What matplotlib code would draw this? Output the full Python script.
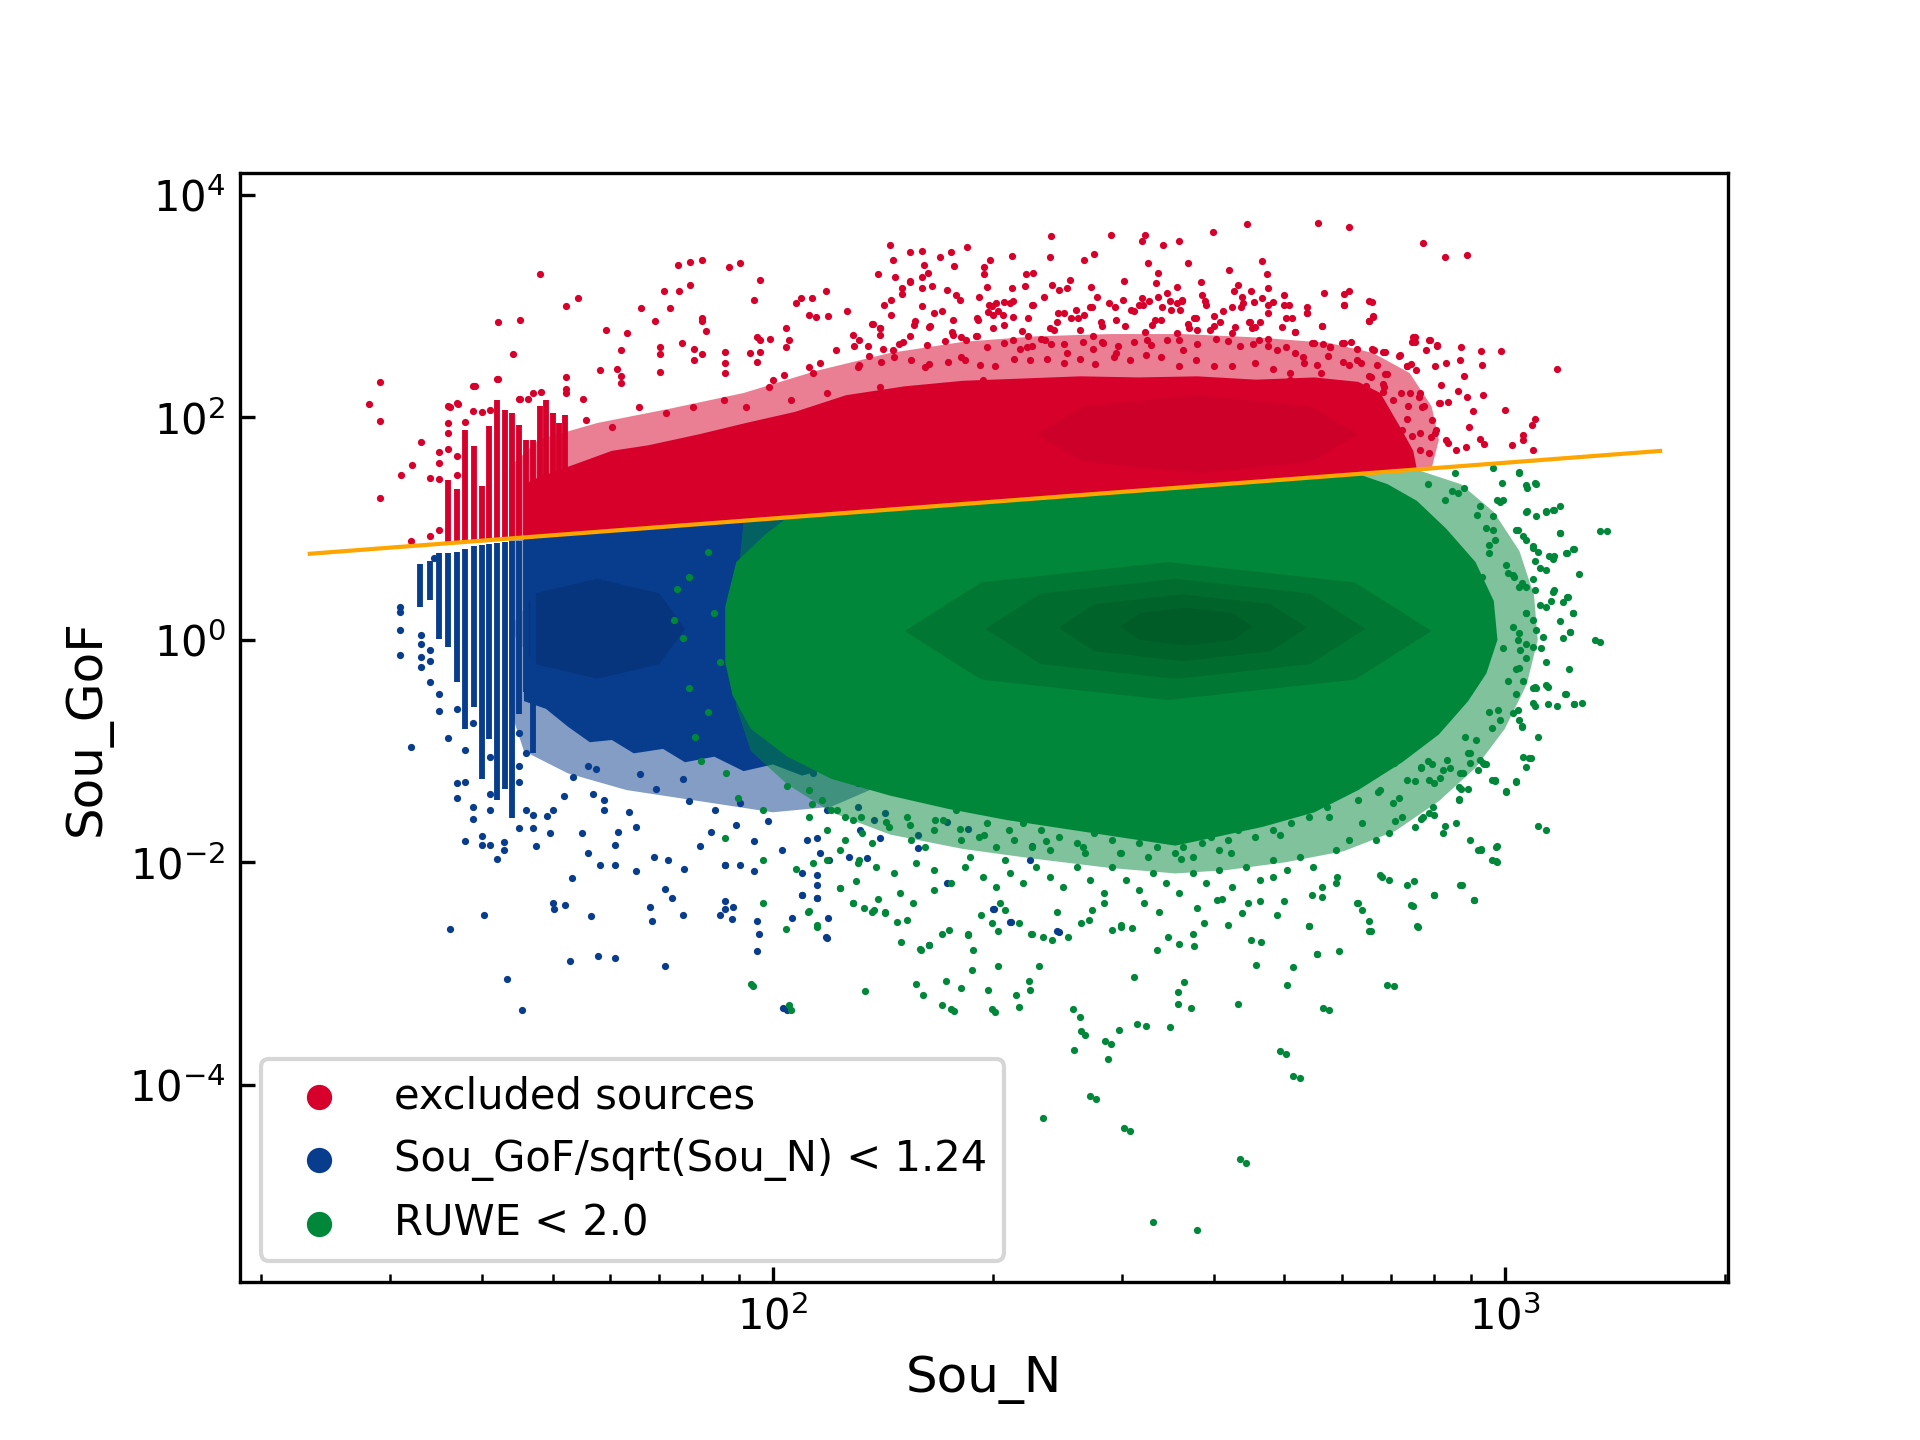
import numpy as np
import matplotlib.pyplot as plt
from matplotlib.ticker import NullLocator

RED = '#d6002b'
BLUE = '#083c8c'
GREEN = '#00873a'

# values are log10(Sou_N) and log10(Sou_GoF)

# threshold line, read at its two ends
line_n = [23.3, 1630]
line_gof = [5.95, 50.0]

y_ticks = [1e-4, 1e-2, 1e0, 1e2, 1e4]

# ---- excluded sources (red) ----
# sparse points, top and left of the cloud
red_lgN = [2.16, 2.265, 2.187, 2.204, 2.243, 1.682, 1.903, 1.887, 1.870, 1.940, 1.955, 1.734, 1.717, 1.624, 1.654,
           1.645, 1.463, 1.448, 1.463, 1.463, 1.519, 1.507, 1.492, 1.772, 1.801, 1.820, 1.839, 1.851, 1.872, 1.887,
           1.859, 1.982, 1.974, 2.072, 2.038, 2.053, 2.101, 2.031,
           2.745, 2.787, 2.648, 2.602, 2.555, 2.533, 2.508, 2.504, 2.462, 2.380, 2.378, 2.327, 2.439, 2.425, 2.512,
           2.567, 2.623, 2.668, 2.675, 2.888, 2.919, 2.948, 3.071, 3.041, 3.037, 3.025, 3.025, 3.010, 3.038, 2.995,
           2.967, 2.969, 2.940, 2.939, 2.944, 2.970, 3.000, 2.956, 2.948, 2.936, 2.907, 2.898, 2.878, 2.873, 2.814,
           2.820, 2.814, 2.780, 2.780, 2.787, 2.753, 2.750, 2.730, 2.730, 2.705, 2.676, 2.635, 2.585, 2.480, 2.406,
           2.346, 2.355, 2.327, 2.922, 2.911, 2.951, 2.971, 2.966, 2.947, 2.933, 2.923, 2.906, 2.899, 2.883, 2.870,
           2.887, 2.866, 2.872, 2.839, 2.833, 2.857, 2.836, 2.821,
           2.187, 2.204, 2.204, 2.217, 2.238, 2.25, 2.167, 2.176, 2.152, 2.161, 2.204, 2.22, 2.231, 2.137, 2.146,
           2.193, 2.214, 2.246, 2.279, 2.294, 2.288, 2.281, 2.30,
           2.049, 2.059, 2.075, 2.018, 2.022, 2.018, 1.978, 1.996, 1.982, 1.978, 1.969, 1.982, 1.934, 1.934, 1.934,
           1.903, 1.903, 1.908, 1.876, 1.892, 1.903, 1.892, 1.846, 1.846, 1.846, 1.792, 1.792, 1.792, 1.787, 1.764,
           1.717, 1.717, 1.717, 1.740, 1.683, 1.654, 1.665, 1.624, 1.593, 1.559, 1.570, 2.015, 2.000, 2.049, 2.064,
           2.328, 2.355, 2.384, 2.407, 2.436, 2.459, 2.493, 2.523, 2.542, 2.559, 2.578, 2.597, 2.615, 2.639, 2.652,
           2.676, 2.701, 2.713, 2.736, 2.761, 2.780, 2.798, 2.817, 2.835, 2.847, 2.835, 2.859, 2.884, 2.896, 2.372,
           2.347, 2.328, 2.402, 2.451, 2.469, 2.511, 2.555, 2.627, 2.664, 2.689, 2.725, 2.749, 2.773, 2.792, 2.810,
           2.773, 2.736, 2.706,
           1.995, 2.025, 2.074, 2.116, 2.146, 2.178, 2.220, 2.257, 2.287, 1.963, 1.933, 1.891, 1.854, 1.817, 1.780,
           1.745, 2.055, 2.116, 2.208, 2.257, 2.086,
           1.544, 1.544, 1.544, 1.544, 1.556, 1.556, 1.556, 1.556, 1.568, 1.568, 1.568, 1.580, 1.591, 1.591, 1.602,
           1.613, 1.623, 1.653, 1.672, 1.531, 1.531, 1.505]
red_lgG = [3.55, 3.53, 3.49, 3.50, 3.49, 3.29, 3.42, 3.40, 3.37, 3.35, 3.39, 3.07, 3.00, 2.86, 2.88,
           2.57, 2.32, 2.12, 1.97, 1.28, 1.78, 1.57, 1.48, 2.79, 2.76, 2.98, 2.87, 3.14, 3.14, 3.19,
           2.98, 3.24, 3.06, 3.14, 3.07, 3.07, 2.96, 3.03,
           3.75, 3.71, 3.74, 3.67, 3.59, 3.55, 3.64, 3.59, 3.64, 3.63, 3.44, 3.45, 3.47, 3.42, 3.39,
           3.39, 3.33, 3.41, 3.29, 3.57, 3.44, 3.46, 2.44, 1.99, 1.93, 1.84, 1.80, 1.75, 1.71, 2.60,
           2.60, 2.47, 2.63, 2.52, 2.37, 2.20, 2.07, 2.06, 2.18, 2.24, 2.64, 2.70, 2.72, 2.68, 3.05,
           2.90, 2.87, 3.01, 3.11, 3.14, 3.12, 2.82, 2.99, 2.94, 3.01, 3.16, 3.19, 3.22, 3.23, 3.24,
           3.29, 3.30, 3.16, 2.14, 2.13, 1.91, 1.76, 1.81, 1.73, 1.71, 1.77, 1.89, 1.82, 2.18, 2.22,
           2.09, 2.46, 2.48, 2.39, 2.30, 2.56, 2.59, 2.61,
           3.23, 3.26, 3.16, 3.18, 3.15, 3.10, 3.26, 3.16, 3.01, 3.06, 3.00, 2.94, 2.96, 2.84, 2.80,
           2.83, 2.81, 2.88, 2.89, 2.95, 3.35, 3.08, 3.00,
           2.92, 2.90, 2.91, 2.80, 2.70, 2.63, 2.72, 2.71, 2.70, 2.50, 2.58, 2.59, 2.59, 2.49, 2.40,
           2.89, 2.87, 2.78, 2.67, 2.62, 2.57, 2.52, 2.63, 2.57, 2.41, 2.61, 2.37, 2.31, 2.44, 2.43,
           2.36, 2.26, 2.22, 2.17, 2.23, 2.17, 2.17, 2.35, 2.28, 2.09, 2.12, 2.38, 2.34, 2.45, 2.49,
           3.05, 3.01, 2.79, 2.89, 2.99, 3.03, 2.96, 3.21, 3.05, 3.05, 2.89, 2.79, 2.96, 2.99, 2.86,
           3.01, 2.89, 2.77, 2.67, 2.63, 2.67, 2.52, 2.36, 2.27, 2.16, 2.04, 1.89, 1.86, 1.68, 2.70,
           2.63, 2.70, 2.58, 2.67, 2.58, 2.70, 2.70, 2.76, 2.70, 2.61, 2.54, 2.40, 2.27, 2.16, 2.00,
           1.98, 2.16, 2.34,
           2.27, 2.16, 2.22, 2.16, 2.27, 2.16, 2.22, 2.27, 2.34, 2.09, 2.16, 2.09, 2.04, 2.09, 1.91,
           1.98, 2.40, 2.45, 2.45, 2.54, 2.61,
           1.69, 1.59, 1.45, 0.99, 2.10, 1.95, 1.86, 1.72, 2.13, 1.65, 1.48, 1.96, 2.28, 2.06, 2.05,
           2.07, 2.35, 2.17, 2.22, 1.46, 0.93, 0.89]

# denser speckle above the solid red area
red_fringe_lgN = [2.164, 2.228, 2.297, 2.207, 2.247, 2.144, 2.212, 2.288, 2.526, 2.187, 2.293, 2.345, 2.382, 2.391,
                  2.402, 2.435, 2.630, 2.653, 2.699, 2.819, 2.177, 2.256, 2.296, 2.305, 2.316, 2.324, 2.354, 2.371,
                  2.443, 2.479, 2.504, 2.514, 2.526, 2.538, 2.552, 2.559, 2.587, 2.591, 2.641, 2.658, 2.668, 2.684,
                  2.161, 2.280, 2.301, 2.307, 2.315, 2.328, 2.349, 2.390, 2.398, 2.414, 2.417, 2.425, 2.433, 2.449,
                  2.468, 2.469, 2.490, 2.500, 2.506, 2.522, 2.532, 2.544, 2.552, 2.556, 2.567, 2.575, 2.592, 2.603,
                  2.611, 2.627, 2.643, 2.651, 2.659, 2.665, 2.676, 2.699, 2.709, 2.730, 2.780, 2.814, 2.820, 2.750,
                  2.714, 2.695, 2.136, 2.146, 2.147, 2.194, 2.215, 2.245, 2.257, 2.279, 2.301, 2.316, 2.340, 2.349,
                  2.379, 2.388, 2.419, 2.438, 2.450, 2.481, 2.508, 2.518, 2.530, 2.552, 2.569, 2.580, 2.603, 2.631,
                  2.655, 2.676, 2.874, 2.878, 2.892, 2.897, 2.907,
                  2.109, 2.118, 2.111, 2.130, 2.151, 2.164, 2.172, 2.178, 2.188, 2.210, 2.235, 2.246, 2.264, 2.277,
                  2.293, 2.316, 2.338, 2.354, 2.366, 2.380, 2.398, 2.424, 2.437, 2.450, 2.472, 2.494, 2.517, 2.538,
                  2.560, 2.579, 2.605, 2.622, 2.638, 2.656, 2.677, 2.701, 2.714, 2.739, 2.751, 2.761, 2.777, 2.790,
                  2.798, 2.819, 2.834, 2.855, 2.866, 2.879, 2.905, 2.920, 2.826, 2.815, 2.837, 2.787, 2.779, 2.803,
                  2.758, 2.744, 2.726, 2.706, 2.684, 2.659, 2.628, 2.603, 2.578, 2.555, 2.531, 2.510, 2.488, 2.466,
                  2.440, 2.419, 2.398, 2.374, 2.351, 2.330, 2.304, 2.283, 2.262, 2.239, 2.213, 2.189, 2.165, 2.148,
                  2.132, 2.118, 2.913, 2.884, 2.858, 2.834, 2.811, 2.868, 2.889, 2.910, 2.837, 2.866, 2.900, 2.873,
                  2.905, 2.920, 2.847, 2.884]
red_fringe_lgG = [3.42, 3.44, 3.42, 3.37, 3.36, 3.29, 3.30, 3.29, 3.30, 3.22, 3.17, 3.18, 3.19, 3.15,
                  3.16, 3.17, 3.14, 3.14, 3.10, 3.04, 3.11, 3.06, 3.01, 3.03, 3.04, 3.03, 3.01, 3.08,
                  3.08, 3.06, 3.07, 3.05, 3.08, 3.12, 3.17, 3.06, 3.10, 3.05, 3.08, 3.04, 3.07, 3.04,
                  2.92, 2.88, 2.92, 2.96, 2.92, 2.90, 2.89, 2.94, 2.94, 2.97, 2.89, 2.92, 2.99, 2.86,
                  2.99, 2.88, 2.97, 3.01, 3.01, 2.88, 2.99, 2.97, 3.03, 2.97, 2.84, 2.89, 3.01, 2.91,
                  2.86, 2.99, 3.03, 2.86, 2.81, 2.86, 2.94, 3.01, 2.89, 2.94, 3.01, 2.87, 2.91, 2.82,
                  2.77, 2.81, 2.84, 2.80, 2.74, 2.87, 2.82, 2.77, 2.72, 2.73, 2.80, 2.83, 2.78, 2.73,
                  2.80, 2.86, 2.79, 2.73, 2.82, 2.82, 2.77, 2.83, 2.88, 2.76, 2.80, 2.79, 2.82, 2.81,
                  2.80, 2.71, 2.72, 2.68, 2.61, 2.70, 2.65,
                  2.74, 2.70, 2.64, 2.64, 2.62, 2.61, 2.66, 2.68, 2.73, 2.65, 2.69, 2.74, 2.70, 2.73,
                  2.63, 2.67, 2.62, 2.64, 2.71, 2.66, 2.66, 2.68, 2.62, 2.68, 2.64, 2.68, 2.65, 2.70,
                  2.61, 2.66, 2.71, 2.69, 2.64, 2.66, 2.64, 2.63, 2.58, 2.67, 2.66, 2.63, 2.67, 2.68,
                  2.62, 2.62, 2.59, 2.55, 2.46, 2.43, 2.46, 2.49, 2.47, 2.37, 2.39, 2.47, 2.50, 2.49,
                  2.55, 2.47, 2.49, 2.40, 2.44, 2.49, 2.46, 2.46, 2.52, 2.46, 2.54, 2.56, 2.52, 2.54,
                  2.48, 2.53, 2.49, 2.53, 2.52, 2.53, 2.46, 2.47, 2.52, 2.50, 2.48, 2.52, 2.54, 2.50,
                  2.55, 2.47, 2.29, 2.22, 2.22, 2.23, 2.28, 2.10, 2.10, 2.13, 2.04, 1.99, 1.98, 1.83,
                  1.86, 1.80, 1.86, 1.71]

# low-N columns (integer Sou_N) above the line: N, lowest and highest log10 GoF
red_col_n = [36, 37, 38, 39, 40, 41, 42, 43, 44, 45, 46, 47, 48, 49, 50, 51, 52]
red_col_lo = [0.88, 0.89, 0.89, 0.89, 0.90, 0.90, 0.91, 0.91, 0.92, 0.92, 0.93, 0.93, 0.94, 0.94, 0.94, 0.95, 0.95]
red_col_hi = [1.44, 1.36, 1.89, 1.74, 1.38, 1.92, 2.16, 2.07, 2.04, 1.93, 1.80, 1.80, 2.10, 2.16, 2.04, 1.95, 2.02]

# outline of the solid red area, and of the speckled band round it
red_core_lgN = [1.66, 2.88, 2.875, 2.86, 2.845, 2.83, 2.80, 2.74, 2.66, 2.58, 2.50, 2.42, 2.34, 2.26, 2.18,
                2.10, 2.03, 1.963, 1.90, 1.83, 1.78, 1.73, 1.683, 1.66]
red_core_lgG = [0.92, 1.53, 1.70, 1.88, 2.05, 2.22, 2.32, 2.36, 2.34, 2.37, 2.36, 2.37, 2.35, 2.33, 2.28,
                2.20, 2.05, 1.95, 1.85, 1.75, 1.70, 1.58, 1.47, 1.40]
red_band_lgN = [1.64, 2.90, 2.91, 2.90, 2.87, 2.82, 2.76, 2.66, 2.56, 2.46, 2.36, 2.26, 2.16, 2.06, 1.96,
                1.86, 1.76, 1.68, 1.64]
red_band_lgG = [0.91, 1.54, 1.80, 2.10, 2.40, 2.58, 2.67, 2.72, 2.75, 2.75, 2.73, 2.68, 2.58, 2.42, 2.22,
                2.08, 1.95, 1.80, 1.55]
red_dark_lgN = [2.80, 2.736, 2.58, 2.424, 2.36, 2.424, 2.58, 2.736]
red_dark_lgG = [1.85, 2.097, 2.20, 2.097, 1.85, 1.603, 1.50, 1.603]

# ---- Sou_GoF/sqrt(Sou_N) < 1.24 (blue) ----
blue_lgN = [1.491, 1.491, 1.491, 1.491, 1.505, 1.519, 1.519, 1.519, 1.519, 1.531, 1.531, 1.531, 1.544, 1.544,
            1.556, 1.568, 1.568, 1.568, 1.580, 1.580, 1.580, 1.591, 1.591, 1.591, 1.602, 1.602, 1.613, 1.613,
            1.613, 1.613, 1.623, 1.633, 1.633, 1.653, 1.653, 1.653, 1.653, 1.663, 1.663, 1.672, 1.672,
            1.691, 1.700, 1.715, 1.727, 1.747, 1.759, 1.754, 1.769, 1.784, 1.803, 1.813, 1.837, 1.857, 1.879,
            1.901, 1.916, 1.935, 1.955, 1.974, 1.974, 1.994, 2.013, 1.764, 1.784, 1.813, 1.725, 1.700, 1.716,
            1.852, 1.862, 1.832, 1.935, 1.945, 1.747, 1.769, 1.818, 1.840, 1.877, 1.886, 1.921, 1.950, 1.955,
            1.789, 1.676, 1.695, 1.739,
            1.559, 1.606, 1.637, 1.657, 1.701, 1.723, 1.751, 1.785, 1.761, 1.852, 1.835, 1.877, 1.928, 1.981,
            2.020, 1.537,
            1.935, 1.978, 1.978, 1.935, 1.944, 2.014, 2.040, 2.061, 2.072, 2.026, 2.214, 2.388, 2.325, 2.301,
            2.043, 2.055, 2.116, 2.074, 2.046, 2.061, 2.116, 2.153, 2.064, 2.104, 2.128, 2.077, 2.040, 2.061,
            2.061, 2.040, 2.061, 2.199, 2.199, 2.238, 2.266, 2.354, 2.351, 2.391, 2.324, 2.302, 2.075, 2.074,
            2.238, 2.147, 2.119, 2.138]
blue_lgG = [0.30, 0.25, 0.09, -0.14, -0.96, 0.04, -0.04, -0.15, -0.24, -0.09, -0.19, -0.38, -0.49, -0.64,
            -0.88, -0.62, -1.29, -1.42, -0.99, -1.28, -1.81, -0.75, -1.50, -1.61, -1.76, -1.84, -1.05, -1.39,
            -1.53, -1.84, -1.97, -1.82, -1.89, -0.84, -1.13, -1.28, -1.69, -1.02, -1.53, -1.57, -1.69,
            -1.58, -1.53, -1.40, -1.23, -1.13, -1.16, -1.39, -1.53, -1.84, -1.55, -1.68, -1.95, -1.98, -2.06,
            -1.85, -1.73, -2.02, -2.02, -2.08, -1.81, -1.63, -1.89, -2.02, -2.02, -2.08, -2.14, -2.37, -2.38,
            -2.24, -2.32, -2.40, -2.42, -2.40, -1.92, -1.44, -1.21, -1.34, -1.25, -1.45, -1.53, -1.66, -1.47,
            -1.73, -1.85, -1.74, -1.74,
            -2.60, -2.47, -3.05, -3.33, -2.42, -2.89, -2.48, -2.86, -2.84, -2.93, -2.53, -2.47, -2.47, -2.64,
            -3.33, 0.74,
            -2.02, -2.53, -2.80, -2.35, -2.51, -3.31, -2.29, -2.32, -2.67, -2.50, -2.74, -2.62, -2.54, -2.42,
            -1.08, -1.20, -1.29, -1.53, -1.80, -1.78, -1.50, -1.56, -1.92, -1.95, -1.96, -1.98, -2.10, -2.11,
            -2.20, -2.29, -2.32, -1.75, -1.87, -1.64, -1.70, -1.85, -1.98, -2.63, -2.54, -2.42, -2.50, -2.68,
            -2.19, -1.78, -1.71, -1.62]

blue_col_n = [33, 34, 35, 36, 37, 38, 39, 40, 41, 42, 43, 44, 45, 46, 47]
blue_col_lo = [0.30, 0.36, 0.01, -0.06, -0.38, -0.80, -0.60, -1.25, -0.89, -1.44, -1.34, -1.60, -0.67, -0.47, -1.02]
blue_col_hi = [0.68, 0.71, 0.78, 0.78, 0.79, 0.82, 0.84, 0.85, 0.86, 0.87, 0.88, 0.89, 0.89, 0.90, 0.91]

blue_core_lgN = [1.66, 2.17, 2.17, 2.15, 2.12, 2.08, 2.04, 2.00, 1.96, 1.92, 1.88, 1.85, 1.81, 1.78, 1.75,
                 1.72, 1.69, 1.66]
blue_core_lgG = [0.92, 1.18, 0.50, -0.50, -0.95, -1.15, -1.22, -1.12, -1.18, -1.05, -1.10, -0.98, -1.02, -0.90,
                 -0.92, -0.78, -0.62, -0.55]
blue_band_lgN = [1.64, 2.20, 2.22, 2.20, 2.15, 2.08, 2.00, 1.90, 1.80, 1.72, 1.66, 1.64]
blue_band_lgG = [0.91, 1.19, 0.00, -0.80, -1.30, -1.50, -1.55, -1.45, -1.35, -1.20, -1.00, -0.60]
blue_dark_lgN = [1.88, 1.845, 1.76, 1.675, 1.64, 1.675, 1.76, 1.845]
blue_dark_lgG = [0.10, 0.418, 0.55, 0.418, 0.10, -0.218, -0.35, -0.218]

# ---- RUWE < 2.0 (green) ----
green_lgN = [1.970, 1.987, 2.018, 2.022, 2.061, 2.048, 2.092, 2.114, 2.109, 2.135, 2.153, 2.170, 2.175, 2.201,
             2.196, 2.205, 2.236, 2.231, 2.244, 2.257, 2.273, 2.272, 2.294, 2.299, 2.308, 2.332, 2.336, 2.351,
             2.364, 2.410, 2.421, 2.411, 2.433, 2.454, 2.458, 2.473, 2.480, 2.493, 2.498, 2.542, 2.554, 2.562,
             2.571, 2.635, 2.638, 2.660, 2.667, 2.693, 2.702, 2.710, 2.710, 2.732, 2.751, 2.744, 2.774, 2.815,
             2.839, 2.874, 2.880, 2.903, 2.941, 2.958, 2.989, 2.989, 2.967, 2.937, 2.940, 2.986, 3.002, 3.015,
             3.046, 3.033, 3.059, 3.083, 3.095, 3.123, 3.089, 3.093, 3.059, 3.041, 3.024, 3.015, 2.998, 2.972,
             2.919, 2.885, 2.850, 2.876, 2.832, 2.798, 2.771, 2.737, 2.684, 2.649, 2.614, 2.580, 2.527, 2.475,
             2.432, 2.388, 2.353, 2.310, 2.266, 2.231, 2.192, 2.144, 2.118, 2.074, 2.031, 1.987, 1.935,
             2.519, 2.580, 2.369,
             2.441, 2.488, 2.647, 2.701, 2.720, 2.419, 2.426, 2.462, 2.510, 2.553, 2.575, 2.760, 2.849, 3.056,
             1.973, 2.025, 2.126, 2.247, 2.303, 2.350, 3.139, 3.076, 3.102, 3.130, 3.105, 3.038,
             3.020, 3.042, 3.030, 3.067, 3.057, 3.075, 3.130, 3.094, 3.085, 3.067, 3.030, 3.018, 3.038, 2.996,
             2.984, 2.990, 2.966, 2.984, 2.975, 2.932, 2.944, 2.936, 2.919, 2.969, 3.005, 3.023, 3.067, 3.085,
             1.869, 1.877, 1.886, 1.894, 1.911, 1.919, 1.928, 1.902, 1.936, 1.865, 1.886, 1.911, 1.953, 1.987,
             2.020, 2.054, 2.087, 2.121, 2.155, 2.188, 2.222, 2.256, 2.289, 2.323, 2.373, 2.424, 2.474, 2.558,
             2.626, 2.693, 2.760, 2.827, 2.895, 2.945, 2.979, 3.004, 3.021, 3.029, 3.012, 2.987, 2.962, 2.928,
             2.895, 3.046, 3.063, 3.080, 3.088, 3.071, 3.046, 3.029]
green_lgG = [-3.09, -2.37, -2.60, -3.28, -2.56, -2.45, -2.23, -2.17, -2.37, -2.45, -2.45, -2.54, -2.72, -2.78,
             -3.09, -3.19, -3.07, -3.28, -3.32, -3.13, -2.79, -2.97, -3.15, -3.32, -2.93, -3.19, -3.30, -3.15,
             -2.93, -3.32, -3.52, -3.69, -4.10, -3.61, -3.77, -3.51, -4.39, -3.03, -3.45, -3.48, -3.17, -3.08,
             -3.31, -3.27, -4.67, -2.92, -2.72, -3.70, -3.10, -3.92, -2.94, -2.57, -3.31, -2.82, -2.80, -2.62,
             -3.10, -2.39, -2.57, -2.29, -2.20, -2.34, -2.00, -1.85, -1.88, -1.43, -1.34, -1.27, -1.37, -1.28,
             -1.67, -1.06, -0.58, -0.49, -0.58, 0.00, 0.07, 0.24, -0.42, -0.42, -0.77, -0.26, -0.07, -1.12,
             -1.67, -1.61, -1.63, -2.17, -2.13, -2.37, -2.13, -2.29, -2.13, -2.37, -2.33, -2.41, -2.45, -2.56,
             -2.52, -2.45, -2.64, -2.37, -2.64, -2.64, -2.37, -2.33, -1.98, -1.98, -2.06, -1.98, -1.78,
             -5.23, -5.31, -4.30,
             -4.13, -4.42, -4.70, -3.72, -3.94, -3.39, -3.55, -3.63, -3.47, -3.27, -2.75, -3.33, -3.11, -1.71,
             -3.11, -3.33, -3.16, -3.34, -3.35, -3.07, 0.98, 1.20, 0.59, -0.02, -0.57, -0.43,
             1.50, 1.40, 1.37, 1.17, 1.15, 0.96, 0.98, 0.82, 0.78, 0.75, 1.16, 0.99, 0.84, 1.41,
             1.55, 1.26, 1.20, 1.11, 1.01, 1.50, 1.37, 1.32, 1.26, 0.57, 0.60, 0.51, 0.45, 0.39,
             0.46, 0.02, -0.43, -0.87, 0.79, 0.24, -0.20, -1.09, -1.20, 0.18, 0.57, -0.65, -1.42, -1.53,
             -1.31, -1.48, -1.53, -1.59, -1.64, -1.66, -1.62, -1.70, -1.75, -1.71, -1.81, -1.86, -1.92, -1.97,
             -1.92, -1.75, -1.59, -1.37, -1.09, -0.87, -0.65, -0.37, -0.09, 0.24, 0.57, 0.90, 1.12, 1.34,
             1.40, 0.79, 0.35, 0.02, -0.26, -0.59, -0.87, -1.14]

# dense speckle below and right of the solid green area
green_fringe_lgN = [2.049, 2.067, 2.080, 2.049, 2.098, 2.074, 2.110, 2.122, 2.098, 2.135, 2.159, 2.183, 2.189,
                    2.208, 2.220, 2.232, 2.250, 2.257, 2.269, 2.281, 2.293, 2.305, 2.317, 2.330, 2.342, 2.354,
                    2.366, 2.378, 2.391, 2.403, 2.415, 2.427, 2.439, 2.452, 2.464, 2.476, 2.488, 2.500, 2.513,
                    2.525, 2.537, 2.549, 2.561, 2.574, 2.586, 2.598, 2.610, 2.622, 2.635, 2.647, 2.659, 2.671,
                    2.683, 2.696, 2.708, 2.720, 2.732, 2.744, 2.757, 2.769, 2.787, 2.799, 2.817, 2.830, 2.848,
                    2.866, 2.885, 2.903, 2.921, 2.939, 2.952, 2.970, 2.982,
                    2.055, 2.092, 2.116, 2.141, 2.165, 2.196, 2.220, 2.244, 2.263, 2.287, 2.305, 2.324, 2.342,
                    2.360, 2.378, 2.397, 2.415, 2.433, 2.452, 2.464, 2.482, 2.500, 2.519, 2.537, 2.555, 2.574,
                    2.592, 2.610, 2.628, 2.647, 2.665, 2.683, 2.702, 2.720, 2.738, 2.750, 2.769, 2.787, 2.805,
                    2.824, 2.842, 2.860, 2.878, 2.897, 2.915, 2.933, 2.952, 2.964, 2.982,
                    2.049, 2.061, 2.092, 2.110, 2.125, 2.138, 2.153, 2.174, 2.183, 2.202, 2.214, 2.220, 2.241,
                    2.266, 2.284, 2.299, 2.308, 2.317, 2.336, 2.354, 2.369, 2.382, 2.403, 2.421, 2.436, 2.452,
                    2.464, 2.476, 2.491, 2.507, 2.525, 2.540, 2.555, 2.574, 2.589, 2.607, 2.622, 2.641, 2.653,
                    2.665, 2.689, 2.699, 2.732, 2.744, 2.750, 2.769, 2.799, 2.805, 2.814, 2.817, 2.830, 2.842,
                    2.866, 2.872, 2.881, 2.903, 2.939, 2.958, 2.967, 2.988, 2.988,
                    3.020, 3.029, 3.041, 2.993, 2.997, 3.029, 3.043, 3.057, 3.066, 3.016, 3.025, 3.029, 3.038,
                    3.075, 3.093, 3.084, 3.061, 3.066, 3.041, 3.048, 3.057, 3.011, 3.002, 3.020, 3.029, 3.038,
                    3.041, 3.066, 3.079, 3.086, 3.093, 3.075, 3.057, 3.048, 3.038, 3.029, 3.043, 3.052, 3.020,
                    3.011, 3.018, 3.029, 3.038, 3.050, 3.089, 3.057, 3.029, 3.020, 3.025, 3.016, 3.043, 3.057,
                    3.082, 3.095, 3.038, 3.041, 3.011, 3.018, 3.020, 3.023, 2.991, 2.993, 2.982, 2.961, 2.950,
                    2.952, 2.966, 2.963, 3.025, 3.036, 2.975, 2.943, 2.925, 2.916, 2.900, 2.886, 2.877, 2.897,
                    2.911, 2.938, 2.950, 2.986, 3.016, 3.002, 2.856, 2.847, 2.902, 2.938, 2.904, 2.888, 2.984,
                    2.979, 2.979]
green_fringe_lgG = [-1.35, -1.44, -1.53, -1.59, -1.59, -1.71, -1.62, -1.74, -1.80, -1.83, -1.68, -1.59, -1.80,
                    -1.86, -1.71, -1.62, -1.53, -1.80, -1.95, -1.77, -1.65, -1.86, -1.98, -1.80, -1.65, -1.86,
                    -1.71, -1.89, -1.77, -1.65, -1.83, -1.92, -1.74, -1.65, -1.80, -1.92, -1.74, -1.83, -1.95,
                    -1.86, -1.77, -1.92, -1.86, -1.95, -1.83, -1.77, -1.89, -1.80, -1.71, -1.65, -1.77, -1.59,
                    -1.71, -1.53, -1.65, -1.47, -1.59, -1.41, -1.50, -1.35, -1.26, -1.44, -1.20, -1.35, -1.11,
                    -1.26, -1.14, -1.29, -1.08, -1.20, -1.02, -1.11, -1.26,
                    -2.01, -1.89, -2.01, -2.04, -2.10, -2.01, -2.07, -2.19, -2.04, -2.13, -2.22, -2.10, -2.19,
                    -2.04, -2.13, -2.22, -2.04, -2.16, -2.28, -2.04, -2.16, -2.25, -2.10, -2.19, -2.28, -2.10,
                    -2.19, -2.07, -2.22, -2.04, -2.16, -1.98, -2.07, -1.95, -2.04, -2.22, -1.89, -1.80, -1.65,
                    -1.80, -1.74, -1.59, -1.68, -1.56, -1.74, -1.65, -1.80, -1.89, -1.98,
                    -2.44, -2.58, -2.23, -2.37, -2.41, -2.43, -2.46, -2.28, -2.52, -2.79, -2.74, -2.25, -2.61,
                    -2.65, -2.47, -2.55, -2.62, -2.43, -2.55, -2.64, -2.67, -2.70, -2.67, -2.55, -2.43, -2.37,
                    -2.61, -2.58, -2.59, -2.37, -2.79, -2.67, -2.73, -2.64, -2.55, -2.34, -2.56, -2.46, -2.70,
                    -2.35, -2.47, -2.35, -2.57, -2.82, -2.31, -2.19, -2.37, -2.43, -2.53, -2.62, -2.11, -2.16,
                    -2.20, -2.38, -2.58, -2.29, -2.20, -2.34, -1.89, -1.86, -1.99,
                    1.51, 1.39, 1.41, 1.24, 1.26, 1.15, 1.11, 1.16, 1.17, 0.99, 0.93, 0.90, 0.83,
                    0.96, 0.82, 0.78, 0.75, 0.73, 0.71, 0.65, 0.63, 0.58, 0.67, 0.48, 0.48, 0.55,
                    0.45, 0.43, 0.34, 0.39, 0.24, 0.17, 0.30, 0.31, 0.18, 0.24, 0.09, 0.03, 0.06,
                    0.12, 0.00, -0.04, -0.06, -0.07, 0.07, -0.20, -0.16, -0.25, -0.37, -0.49, -0.43, -0.41,
                    -0.49, -0.58, -0.57, -0.59, -0.66, -0.63, -0.72, -0.78, -0.63, -0.72, -0.79, -0.90, -1.02,
                    -1.11, -1.08, -1.17, -1.05, -1.06, -1.12, -1.20, -1.15, -1.17, -1.12, -1.15, -1.27, -1.26,
                    -1.24, -1.32, -1.34, -1.26, -1.27, -1.36, -1.42, -1.47, -1.50, -1.44, -1.57, -1.59, 0.99,
                    0.85, 0.78]

# outline of the solid green area, and of the speckled band round it
green_core_lgN = [2.02, 2.80, 2.84, 2.88, 2.92, 2.96, 2.985, 2.99, 2.975, 2.95, 2.91, 2.86, 2.80, 2.74, 2.67,
                  2.60, 2.55, 2.48, 2.40, 2.32, 2.24, 2.16, 2.08, 2.02, 1.97, 1.945, 1.935, 1.935, 1.95, 1.99]
green_core_lgG = [1.10, 1.49, 1.40, 1.25, 1.00, 0.70, 0.35, 0.00, -0.30, -0.55, -0.85, -1.10, -1.35, -1.55, -1.68,
                  -1.78, -1.85, -1.78, -1.70, -1.62, -1.52, -1.40, -1.25, -1.05, -0.80, -0.50, -0.20, 0.30, 0.70,
                  0.95]
green_band_lgN = [1.96, 2.88, 2.94, 2.985, 3.02, 3.04, 3.045, 3.03, 3.00, 2.96, 2.91, 2.85, 2.78, 2.70, 2.62,
                  2.55, 2.46, 2.36, 2.26, 2.16, 2.08, 2.02, 1.97, 1.95, 1.95]
green_band_lgG = [1.07, 1.53, 1.40, 1.15, 0.80, 0.40, 0.00, -0.40, -0.80, -1.15, -1.45, -1.72, -1.90, -2.00, -2.07,
                  -2.10, -2.05, -1.97, -1.88, -1.75, -1.55, -1.30, -1.00, -0.60, 0.40]
# darker centre of the green cloud, outer to inner
green_shade_lgN = [[2.90, 2.795, 2.54, 2.285, 2.18, 2.285, 2.54, 2.795],
                   [2.81, 2.734, 2.55, 2.366, 2.29, 2.366, 2.55, 2.734],
                   [2.73, 2.68, 2.56, 2.44, 2.39, 2.44, 2.56, 2.68],
                   [2.655, 2.629, 2.565, 2.501, 2.475, 2.501, 2.565, 2.629]]
green_shade_lgG = [[0.08, 0.518, 0.70, 0.518, 0.08, -0.358, -0.54, -0.358],
                   [0.10, 0.418, 0.55, 0.418, 0.10, -0.218, -0.35, -0.218],
                   [0.11, 0.322, 0.41, 0.322, 0.11, -0.102, -0.19, -0.102],
                   [0.12, 0.24, 0.29, 0.24, 0.12, 0.00, -0.05, 0.00]]


def pw(*arrs):
    return 10.0 ** np.concatenate([np.asarray(a, dtype=float) for a in arrs])


fig, ax = plt.subplots(figsize=(6.4, 4.8), dpi=300)
ax.set_xscale('log')
ax.set_yscale('log')
dot = 3
band_alpha = 0.5

# red
ax.fill(pw(red_band_lgN), pw(red_band_lgG), color=RED, alpha=band_alpha, lw=0)
ax.fill(pw(red_core_lgN), pw(red_core_lgG), color=RED, lw=0)
ax.fill(pw(red_dark_lgN), pw(red_dark_lgG), color='#8a0018', alpha=0.12, lw=0)
ax.vlines(red_col_n, pw(red_col_lo), pw(red_col_hi), color=RED, lw=1.4)
ax.scatter(pw(red_lgN, red_fringe_lgN), pw(red_lgG, red_fringe_lgG), s=dot, c=RED, lw=0,
           label='excluded sources')

# blue
ax.fill(pw(blue_band_lgN), pw(blue_band_lgG), color=BLUE, alpha=band_alpha, lw=0)
ax.fill(pw(blue_core_lgN), pw(blue_core_lgG), color=BLUE, lw=0)
ax.fill(pw(blue_dark_lgN), pw(blue_dark_lgG), color='#021a4a', alpha=0.2, lw=0)
ax.vlines(blue_col_n, pw(blue_col_lo), pw(blue_col_hi), color=BLUE, lw=1.4)
ax.scatter(pw(blue_lgN), pw(blue_lgG), s=dot, c=BLUE, lw=0, label='Sou_GoF/sqrt(Sou_N) < 1.24')

# green
ax.fill(pw(green_band_lgN), pw(green_band_lgG), color=GREEN, alpha=band_alpha, lw=0)
ax.fill(pw(green_core_lgN), pw(green_core_lgG), color=GREEN, lw=0)
for sx, sy in zip(green_shade_lgN, green_shade_lgG):
    ax.fill(pw(sx), pw(sy), color='#00401a', alpha=0.2, lw=0)
ax.scatter(pw(green_lgN, green_fringe_lgN), pw(green_lgG, green_fringe_lgG), s=dot, c=GREEN, lw=0,
           label='RUWE < 2.0')

ax.plot(line_n, line_gof, color='orange', lw=1.0, zorder=3)

ax.set_xlim(10 ** 1.272, 10 ** 3.305)
ax.set_ylim(10 ** -5.77, 10 ** 4.20)
ax.set_yticks(y_ticks)
ax.yaxis.set_minor_locator(NullLocator())
ax.tick_params(which='both', direction='in', labelsize=10)
ax.set_xlabel('Sou_N', fontsize=12)
ax.set_ylabel('Sou_GoF', fontsize=12)
ax.legend(loc='lower left', markerscale=3.5, fontsize=10)

plt.savefig('out.png', dpi=300)
